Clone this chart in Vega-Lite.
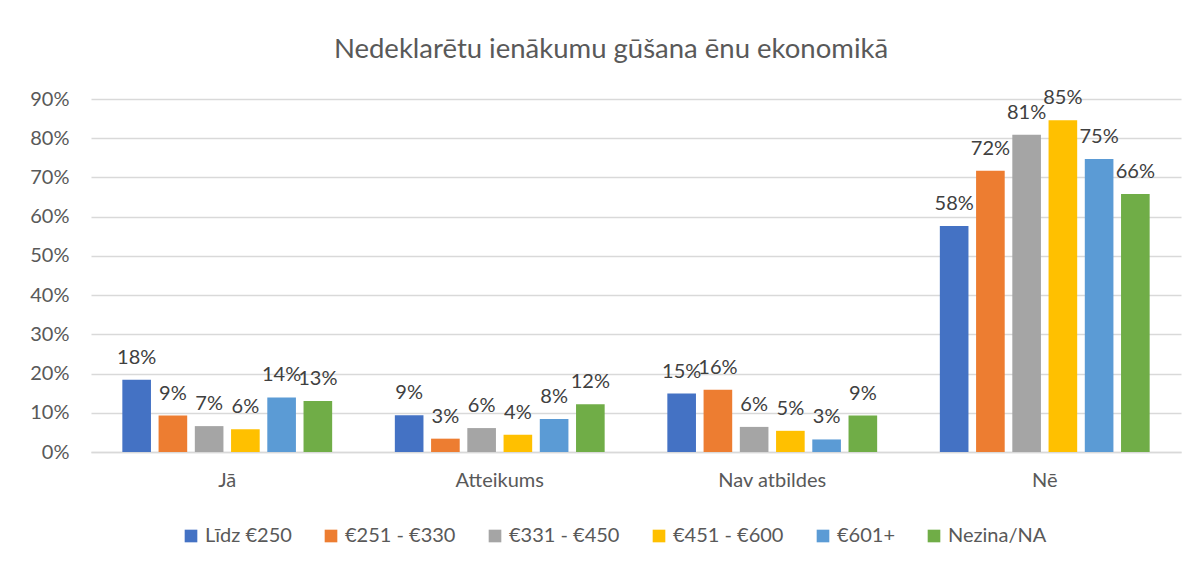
{
  "$schema": "https://vega.github.io/schema/vega-lite/v6.json",
  "width": 1090,
  "height": 353,
  "autosize": {"type": "none"},
  "padding": {"left": 91, "top": 99, "right": 17, "bottom": 116},
  "background": "white",
  "title": {
    "text": "Nedeklarētu ienākumu gūšana ēnu ekonomikā",
    "font": "Lato",
    "fontSize": 27.5,
    "fontWeight": "normal",
    "color": "#595959",
    "anchor": "middle",
    "dx": -25,
    "offset": 25
  },
  "config": {
    "view": {"stroke": null},
    "font": "Lato"
  },
  "data": {
    "values": [
      {"c": "Jā", "s": "Līdz €250", "v": 0.184},
      {"c": "Jā", "s": "€251 - €330", "v": 0.093},
      {"c": "Jā", "s": "€331 - €450", "v": 0.066},
      {"c": "Jā", "s": "€451 - €600", "v": 0.058},
      {"c": "Jā", "s": "€601+", "v": 0.139},
      {"c": "Jā", "s": "Nezina/NA", "v": 0.130},
      {"c": "Atteikums", "s": "Līdz €250", "v": 0.094},
      {"c": "Atteikums", "s": "€251 - €330", "v": 0.034},
      {"c": "Atteikums", "s": "€331 - €450", "v": 0.061},
      {"c": "Atteikums", "s": "€451 - €600", "v": 0.044},
      {"c": "Atteikums", "s": "€601+", "v": 0.084},
      {"c": "Atteikums", "s": "Nezina/NA", "v": 0.122},
      {"c": "Nav atbildes", "s": "Līdz €250", "v": 0.149},
      {"c": "Nav atbildes", "s": "€251 - €330", "v": 0.159},
      {"c": "Nav atbildes", "s": "€331 - €450", "v": 0.064},
      {"c": "Nav atbildes", "s": "€451 - €600", "v": 0.054},
      {"c": "Nav atbildes", "s": "€601+", "v": 0.032},
      {"c": "Nav atbildes", "s": "Nezina/NA", "v": 0.093},
      {"c": "Nē", "s": "Līdz €250", "v": 0.576},
      {"c": "Nē", "s": "€251 - €330", "v": 0.717},
      {"c": "Nē", "s": "€331 - €450", "v": 0.809},
      {"c": "Nē", "s": "€451 - €600", "v": 0.846},
      {"c": "Nē", "s": "€601+", "v": 0.747},
      {"c": "Nē", "s": "Nezina/NA", "v": 0.658}
    ]
  },
  "encoding": {
    "x": {
      "field": "c",
      "type": "nominal",
      "sort": ["Jā", "Atteikums", "Nav atbildes", "Nē"],
      "scale": {"paddingInner": 0.23, "paddingOuter": 0.115},
      "axis": {
        "title": null,
        "labelAngle": 0,
        "labelFont": "Lato",
        "labelFontSize": 20,
        "labelColor": "#595959",
        "labelPadding": 18,
        "ticks": false,
        "domainColor": "#D9D9D9",
        "domainWidth": 1.5
      }
    },
    "xOffset": {
      "field": "s",
      "type": "nominal",
      "sort": ["Līdz €250", "€251 - €330", "€331 - €450", "€451 - €600", "€601+", "Nezina/NA"],
      "scale": {"paddingInner": 0.21, "paddingOuter": 0}
    },
    "y": {
      "field": "v",
      "type": "quantitative",
      "scale": {"domain": [0, 0.9], "nice": false},
      "axis": {
        "title": null,
        "format": ".0%",
        "values": [0, 0.1, 0.2, 0.3, 0.4, 0.5, 0.6, 0.7, 0.8, 0.9],
        "labelFont": "Lato",
        "labelFontSize": 20,
        "labelColor": "#595959",
        "labelPadding": 22,
        "ticks": false,
        "domain": false,
        "gridColor": "#D9D9D9",
        "gridWidth": 1.5
      }
    }
  },
  "layer": [
    {
      "mark": {"type": "bar"},
      "encoding": {
        "color": {
          "field": "s",
          "type": "nominal",
          "sort": ["Līdz €250", "€251 - €330", "€331 - €450", "€451 - €600", "€601+", "Nezina/NA"],
          "scale": {
            "domain": ["Līdz €250", "€251 - €330", "€331 - €450", "€451 - €600", "€601+", "Nezina/NA"],
            "range": ["#4472C4", "#ED7D31", "#A5A5A5", "#FFC000", "#5B9BD5", "#70AD47"]
          },
          "legend": {
            "title": null,
            "orient": "none",
            "legendX": 90,
            "legendY": 427,
            "direction": "horizontal",
            "columns": 6,
            "symbolType": "square",
            "symbolSize": 160,
            "symbolStrokeWidth": 0,
            "labelFont": "Lato",
            "labelFontSize": 20,
            "labelColor": "#595959",
            "labelOffset": 4,
            "columnPadding": 29
          }
        }
      }
    },
    {
      "mark": {
        "type": "text",
        "baseline": "alphabetic",
        "dy": -16,
        "font": "Lato",
        "fontSize": 20,
        "color": "#404040"
      },
      "encoding": {
        "text": {"field": "v", "type": "quantitative", "format": ".0%"}
      }
    }
  ]
}
